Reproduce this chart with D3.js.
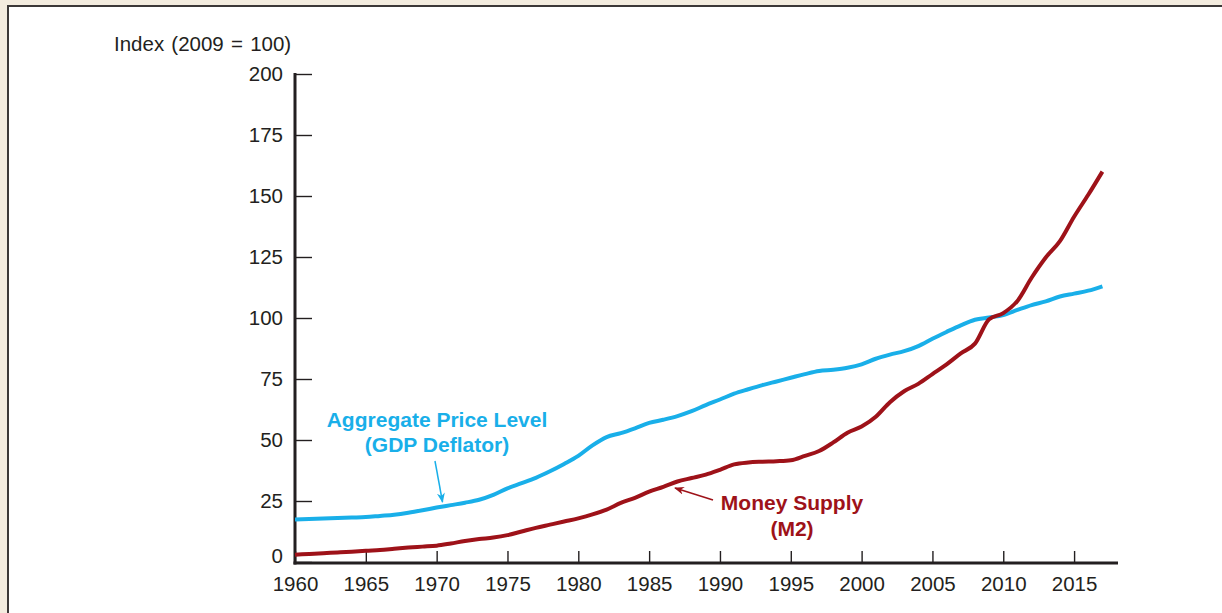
<!DOCTYPE html>
<html>
<head>
<meta charset="utf-8">
<script src="https://cdn.jsdelivr.net/npm/d3@7"></script>
<style>
  html, body { margin: 0; padding: 0; background: #f3ecdf; }
  svg { display: block; }
  text { font-family: "Liberation Sans", Arial, Helvetica, sans-serif; }
</style>
</head>
<body>
<svg id="chart" width="1222" height="613"></svg>
<script>
// ---- Data ----
const years = d3.range(1960, 2018);
const gdpDeflator = [
  17.4, 17.6, 17.8, 18.0, 18.2, 18.4, 18.9, 19.4, 20.2, 21.2,
  22.3, 23.3, 24.3, 25.5, 27.5, 30.2, 32.3, 34.5, 37.2, 40.2,
  43.5, 47.8, 51.2, 52.8, 54.8, 57.0, 58.3, 59.8, 61.8, 64.3,
  66.6, 69.0, 70.8, 72.5, 74.0, 75.5, 77.0, 78.3, 78.8, 79.6,
  81.0, 83.3, 85.0, 86.4, 88.5, 91.5, 94.3, 97.0, 99.3, 100.2,
  101.2, 103.3, 105.3, 106.8, 108.8, 110.0, 111.2, 113.0
];
const moneySupplyM2 = [
  3.0, 3.3, 3.6, 3.9, 4.2, 4.6, 4.9, 5.4, 5.9, 6.3,
  6.7, 7.6, 8.6, 9.4, 10.0, 11.0, 12.5, 14.0, 15.3, 16.6,
  17.9, 19.5, 21.5, 24.2, 26.3, 28.8, 30.8, 33.0, 34.4, 35.8,
  37.8, 40.0, 40.8, 41.1, 41.3, 41.7, 43.5, 45.5, 49.0, 53.0,
  55.5, 59.5, 65.5, 70.0, 73.0, 77.0, 81.0, 85.5, 89.5, 99.5,
  102.0, 107.0, 116.5, 124.8, 131.5, 141.5, 150.5, 160.0
];
const yTicks = [0, 25, 50, 75, 100, 125, 150, 175, 200];
const xTicks = [1960, 1965, 1970, 1975, 1980, 1985, 1990, 1995, 2000, 2005, 2010, 2015];
const yAxisTitle = "Index (2009 = 100)";
const priceLabel = ["Aggregate Price Level", "(GDP Deflator)"];
const moneyLabel = ["Money Supply", "(M2)"];

// ---- Styles ----
const ink = "#231f20";
const blue = "#19afe9";
const red = "#9e1219";

const svg = d3.select("#chart");

// panel
svg.append("rect")
  .attr("x", 8).attr("y", 6).attr("width", 1230).attr("height", 620)
  .attr("fill", "#ffffff").attr("stroke", "#3b3838").attr("stroke-width", 2);

const x = d3.scaleLinear().domain([1960, 2018.1]).range([295, 1118]);
const y = d3.scaleLinear().domain([0, 200]).range([562, 74]);

// y axis ticks + labels
const yAxis = d3.axisLeft(y).tickValues(yTicks).tickSizeInner(-17).tickSizeOuter(0).tickPadding(12);
const gy = svg.append("g").attr("transform", "translate(295,0)").call(yAxis);
gy.select(".domain").remove();
gy.selectAll(".tick line").attr("stroke", ink).attr("stroke-width", 1.4);
gy.selectAll(".tick text")
  .attr("fill", ink).attr("font-size", 20.5)
  .style("font-family", '"Liberation Sans", Arial, sans-serif')
  .attr("dy", d => d === 0 ? "0.02em" : "0.33em");

// x axis ticks + labels
const xAxis = d3.axisBottom(x).tickValues(xTicks).tickFormat(d3.format("d"))
  .tickSizeInner(-12).tickSizeOuter(0).tickPadding(13);
const gx = svg.append("g").attr("transform", "translate(0,563)").call(xAxis);
gx.select(".domain").remove();
gx.selectAll(".tick line").attr("stroke", ink).attr("stroke-width", 1.4);
gx.selectAll(".tick text")
  .attr("fill", ink).attr("font-size", 20.5)
  .style("font-family", '"Liberation Sans", Arial, sans-serif');

// axis lines
svg.append("line").attr("x1", 295).attr("x2", 295).attr("y1", y(200) - 1).attr("y2", 564.5)
  .attr("stroke", ink).attr("stroke-width", 3);
svg.append("line").attr("x1", 293.5).attr("x2", x(2018.1)).attr("y1", 563).attr("y2", 563)
  .attr("stroke", ink).attr("stroke-width", 3);

// y axis title
svg.append("text").attr("x", 114).attr("y", 51)
  .attr("font-size", 20.5).attr("fill", ink).attr("word-spacing", 1.5)
  .text(yAxisTitle);

// lines
const line = d3.line().x(d => x(d[0])).y(d => y(d[1])).curve(d3.curveMonotoneX);
svg.append("path")
  .datum(years.map((yr, i) => [yr, gdpDeflator[i]]))
  .attr("fill", "none").attr("stroke", blue).attr("stroke-width", 4)
  .attr("stroke-linejoin", "round").attr("stroke-linecap", "butt")
  .attr("d", line);
svg.append("path")
  .datum(years.map((yr, i) => [yr, moneySupplyM2[i]]))
  .attr("fill", "none").attr("stroke", red).attr("stroke-width", 4)
  .attr("stroke-linejoin", "round").attr("stroke-linecap", "butt")
  .attr("d", line);

// arrow markers
const defs = svg.append("defs");
function marker(id, color) {
  defs.append("marker").attr("id", id)
    .attr("viewBox", "0 0 10 10").attr("refX", 9).attr("refY", 5)
    .attr("markerWidth", 10).attr("markerHeight", 10).attr("markerUnits", "userSpaceOnUse")
    .attr("orient", "auto")
    .append("path").attr("d", "M0,1 L10,5 L0,9 L3,5 Z").attr("fill", color);
}
marker("arrBlue", blue);
marker("arrRed", red);

// annotations
const ann = svg.append("g").attr("font-weight", "bold").attr("font-size", 21).attr("text-anchor", "middle");
ann.append("text").attr("x", 437).attr("y", 427).attr("fill", blue).text(priceLabel[0]);
ann.append("text").attr("x", 437).attr("y", 452).attr("fill", blue).text(priceLabel[1]);
ann.append("text").attr("x", 792).attr("y", 510).attr("fill", red).text(moneyLabel[0]);
ann.append("text").attr("x", 792).attr("y", 536).attr("fill", red).text(moneyLabel[1]);

svg.append("line").attr("x1", 435).attr("y1", 461).attr("x2", 442.5).attr("y2", 502)
  .attr("stroke", blue).attr("stroke-width", 1.5).attr("marker-end", "url(#arrBlue)");
svg.append("line").attr("x1", 713).attr("y1", 500).attr("x2", 675).attr("y2", 488)
  .attr("stroke", red).attr("stroke-width", 1.5).attr("marker-end", "url(#arrRed)");
</script>
</body>
</html>
